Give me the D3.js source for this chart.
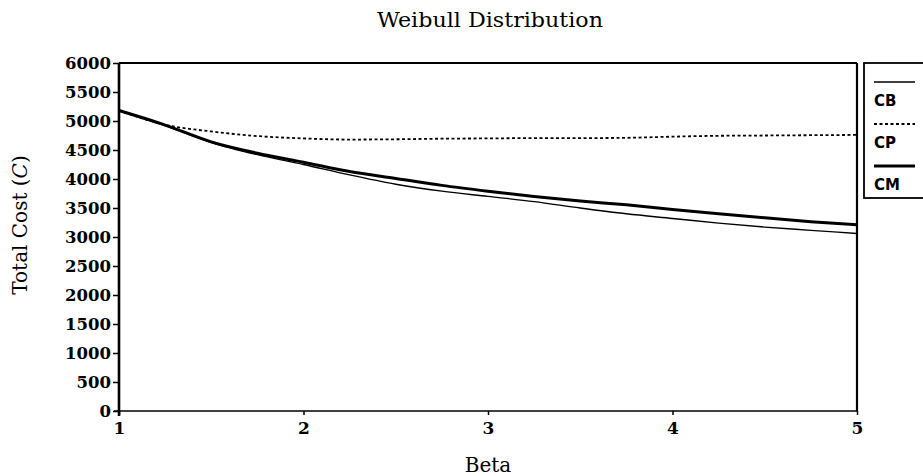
<!DOCTYPE html>
<html>
<head>
<meta charset="utf-8">
<script src="https://cdn.jsdelivr.net/npm/d3@7"></script>
<style>
  body { margin: 0; background: #fff; }
  svg text { fill: #000; }
</style>
</head>
<body>
<div id="chart"></div>
<script>
// Chart values
const beta = [1, 1.25, 1.5, 1.75, 2, 2.25, 2.5, 2.75, 3, 3.25, 3.5, 3.75, 4, 4.25, 4.5, 4.75, 5];
const cbValues = [5180, 4920, 4630, 4420, 4250, 4070, 3910, 3790, 3700, 3610, 3500, 3400, 3320, 3240, 3170, 3115, 3060];
const cpValues = [5180, 4935, 4820, 4740, 4700, 4680, 4685, 4695, 4700, 4705, 4705, 4710, 4730, 4745, 4750, 4755, 4760];
const cmValues = [5180, 4930, 4640, 4445, 4290, 4130, 4010, 3890, 3790, 3700, 3620, 3555, 3475, 3400, 3330, 3265, 3210];
const xTicks = [1, 2, 3, 4, 5];
const yTicks = [0, 500, 1000, 1500, 2000, 2500, 3000, 3500, 4000, 4500, 5000, 5500, 6000];
const seriesNames = ["CB", "CP", "CM"];

// Set the dimensions and margins of the graph
const W = 923, H = 476;
const margin = {top: 63, right: 66, bottom: 65, left: 119},
    width = W - margin.left - margin.right,
    height = H - margin.top - margin.bottom;

const svg = d3.select("#chart")
  .append("svg")
    .attr("width", W)
    .attr("height", H)
    .style("font-family", "'DejaVu Serif', serif");

const g = svg.append("g")
    .attr("transform", `translate(${margin.left},${margin.top})`);

const x = d3.scaleLinear().domain([1, 5]).range([0, width]);
const y = d3.scaleLinear().domain([0, 6000]).range([height, 0]);

// Frame: top and right edges
g.append("line").attr("x1", 0).attr("x2", width).attr("y1", 0).attr("y2", 0)
    .attr("stroke", "#000").attr("stroke-width", 2);
g.append("line").attr("x1", width).attr("x2", width).attr("y1", 0).attr("y2", height)
    .attr("stroke", "#000").attr("stroke-width", 2.2);

// X axis
const xAxis = g.append("g")
    .attr("transform", `translate(0,${height})`)
    .call(d3.axisBottom(x).tickValues(xTicks).tickFormat(d3.format("d")).tickSize(4).tickPadding(7));
xAxis.select(".domain").attr("stroke-width", 1.6).attr("d", `M-5,0H${width}`);
xAxis.selectAll(".tick line").attr("stroke-width", 1.5);
xAxis.selectAll("text")
    .style("font-size", "17px").style("font-weight", "bold")
    .style("font-family", "'DejaVu Serif', serif");

// Y axis
const yAxis = g.append("g")
    .call(d3.axisLeft(y).tickValues(yTicks).tickFormat(d3.format("d")).tickSize(6).tickPadding(2));
yAxis.select(".domain").attr("stroke-width", 2.6).attr("d", `M0,0V${height + 5}`);
yAxis.selectAll(".tick line").attr("stroke-width", 1.5);
yAxis.selectAll("text")
    .style("font-size", "16.5px").style("font-weight", "bold")
    .style("font-family", "'DejaVu Serif', serif");

// Lines
const line = d3.line().x((d, i) => x(beta[i])).y(d => y(d)).curve(d3.curveMonotoneX);

g.append("path").datum(cbValues)
    .attr("fill", "none").attr("stroke", "#000").attr("stroke-width", 1.4)
    .attr("d", line);
g.append("path").datum(cpValues)
    .attr("fill", "none").attr("stroke", "#000").attr("stroke-width", 1.8)
    .attr("stroke-dasharray", "3,2.5")
    .attr("d", line);
g.append("path").datum(cmValues)
    .attr("fill", "none").attr("stroke", "#000").attr("stroke-width", 3)
    .attr("d", line);

// Title
svg.append("text")
    .attr("x", 490).attr("y", 27)
    .attr("text-anchor", "middle")
    .style("font-size", "21px")
    .attr("textLength", 226).attr("lengthAdjust", "spacingAndGlyphs")
    .text("Weibull Distribution");

// X axis label
svg.append("text")
    .attr("x", margin.left + x(3)).attr("y", 472)
    .attr("text-anchor", "middle")
    .style("font-size", "20px")
    .text("Beta");

// Y axis label
const yLabel = svg.append("text")
    .attr("transform", `translate(27,${margin.top + height / 2 - 12}) rotate(-90)`)
    .attr("text-anchor", "middle")
    .style("font-size", "20px");
yLabel.append("tspan").text("Total Cost (");
yLabel.append("tspan").style("font-style", "italic").text("C");
yLabel.append("tspan").text(")");

// Legend
const lgX = margin.left + width + 7;
svg.append("rect")
    .attr("x", lgX).attr("y", margin.top)
    .attr("width", 80).attr("height", 135)
    .attr("fill", "none").attr("stroke", "#000").attr("stroke-width", 1.8);

const legendStyle = [
  {w: 1.4, dash: null},
  {w: 1.8, dash: "3,2.5"},
  {w: 3, dash: null}
];
const legend = svg.selectAll(".legend")
    .data(seriesNames)
    .join("g")
    .attr("class", "legend")
    .attr("transform", (d, i) => `translate(${lgX + 10},${margin.top + 19 + i * 42})`);

legend.append("line")
    .attr("x1", 0).attr("x2", 41).attr("y1", 0).attr("y2", 0)
    .attr("stroke", "#000")
    .attr("stroke-width", (d, i) => legendStyle[i].w)
    .attr("stroke-dasharray", (d, i) => legendStyle[i].dash);

legend.append("text")
    .attr("x", 0).attr("y", 24)
    .style("font-family", "'DejaVu Sans', sans-serif")
    .style("font-weight", "bold")
    .style("font-size", "15px")
    .text(d => d);
</script>
</body>
</html>
